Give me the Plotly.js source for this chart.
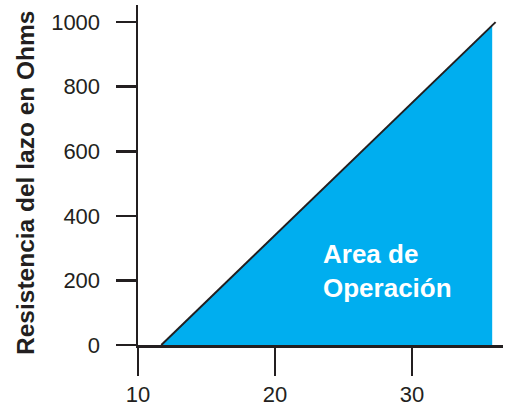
<!DOCTYPE html>
<html>
<head>
<meta charset="utf-8">
<script src="https://cdn.plot.ly/plotly-3.0.1.min.js"></script>
<style>html,body{margin:0;padding:0;background:#fff;}#chart{width:507px;height:406px;}</style>
</head>
<body>
<div id="chart"></div>
<script>
// Boundary line of the operating area (loop voltage vs. loop resistance)
const lineX = [11.7, 36.1];
const lineY = [0, 1000];
// Filled operating area polygon
const areaX = [11.7, 35.85, 35.85, 11.7];
const areaY = [0, 990, 0, 0];
// Axis ticks
const xTicks = [10, 20, 30];
const yTicks = [0, 200, 400, 600, 800, 1000];
const areaLabel = "Area de<br>Operación";
const yTitle = "Resistencia del lazo en Ohms";

const ink = "#231f20";
const blue = "#00aeef";
const font = "Liberation Sans, Arial, sans-serif";

const traces = [
  {x: areaX, y: areaY, type: "scatter", mode: "lines", fill: "toself",
   fillcolor: blue, line: {width: 0, color: blue}, hoverinfo: "skip"},
  {x: lineX, y: lineY, type: "scatter", mode: "lines",
   line: {color: ink, width: 2}, hoverinfo: "skip"}
];

const plotW = 507 - 138 - 4, plotH = 406 - 5 - 61;

const layout = {
  width: 507, height: 406,
  margin: {l: 138, r: 4, t: 5, b: 61},
  paper_bgcolor: "#fff", plot_bgcolor: "#fff",
  showlegend: false,
  font: {family: font, color: ink, size: 22},
  xaxis: {
    range: [10, 36.64], tickvals: xTicks, ticktext: xTicks.map(String),
    showgrid: false, zeroline: false, showline: true, linecolor: ink, linewidth: 2.5,
    ticks: "outside", ticklen: 28, tickwidth: 2.5, tickcolor: ink,
    tickfont: {size: 22, color: ink}
  },
  yaxis: {
    range: [0, 1053], tickvals: yTicks, ticktext: yTicks.map(v => String(v) + "\u2002"),
    showgrid: false, zeroline: false, showline: true, linecolor: ink, linewidth: 2.5,
    ticks: "outside", ticklen: 20, tickwidth: 2.5, tickcolor: ink,
    tickfont: {size: 22, color: ink}
  },
  annotations: [
    {
      text: "<b>" + areaLabel + "</b>", showarrow: false, align: "left",
      xref: "paper", yref: "paper", xanchor: "left", yanchor: "middle",
      x: (321 - 138) / plotW, y: (345 - 271) / plotH,
      font: {size: 26, color: "#ffffff"}
    },
    {
      text: "<b>" + yTitle + "</b>", textangle: -90, showarrow: false,
      xref: "paper", yref: "paper", xanchor: "center", yanchor: "middle",
      x: (25 - 138) / plotW, y: (345 - 183) / plotH,
      font: {size: 24.5, color: ink}
    }
  ]
};

Plotly.newPlot("chart", traces, layout, {displayModeBar: false, staticPlot: true});
</script>
</body>
</html>
